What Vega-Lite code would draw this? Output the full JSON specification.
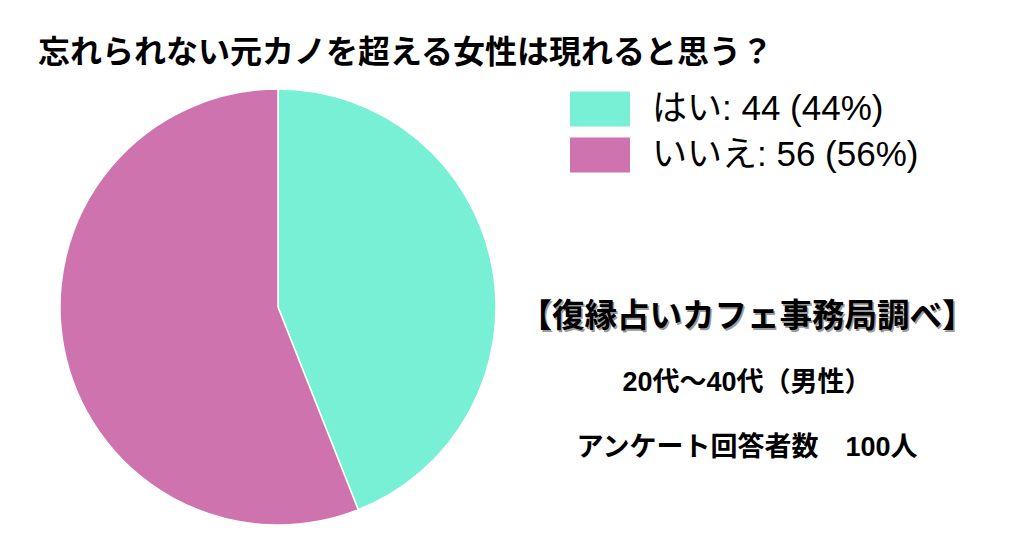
{
  "$schema": "https://vega.github.io/schema/vega-lite/v6.json",
  "background": "white",
  "padding": {"left": 0, "top": 36, "right": 0, "bottom": 0},
  "title": {
    "text": "忘れられない元カノを超える女性は現れると思う？",
    "anchor": "start",
    "dx": 38,
    "offset": 1.5,
    "baseline": "middle",
    "font": "Noto Sans CJK JP",
    "fontSize": 32,
    "fontWeight": "bold",
    "color": "#000000"
  },
  "bounds": "flush",
  "spacing": 0,
  "config": {"view": {"stroke": null}, "font": "Noto Sans CJK JP"},
  "hconcat": [
    {
      "width": 556,
      "height": 436,
      "data": {
        "values": [
          {"answer": "はい", "label": "はい: 44 (44%)", "count": 44},
          {"answer": "いいえ", "label": "いいえ: 56 (56%)", "count": 56}
        ]
      },
      "mark": {"type": "arc", "stroke": "white", "strokeWidth": 1.5},
      "encoding": {
        "theta": {"field": "count", "type": "quantitative", "stack": true},
        "order": {"field": "count", "type": "quantitative", "sort": "ascending"},
        "color": {
          "field": "label",
          "type": "nominal",
          "scale": {
            "domain": ["はい: 44 (44%)", "いいえ: 56 (56%)"],
            "range": ["#77F0D5", "#CF73AE"]
          },
          "legend": {
            "title": null,
            "orient": "none",
            "legendX": 580,
            "legendY": 0,
            "symbolType": "M-1.5,-0.875H1.5V0.875H-1.5Z",
            "symbolSize": 1600,
            "symbolStrokeWidth": 0,
            "symbolOpacity": 1,
            "labelFont": "Liberation Sans, Noto Sans CJK JP",
            "labelFontSize": 35,
            "labelColor": "#000000",
            "labelOffset": 32,
            "labelLimit": 400,
            "rowPadding": 8
          }
        }
      }
    },
    {
      "width": 382,
      "height": 436,
      "data": {
        "values": [
          {"line": "【復縁占いカフェ事務局調べ】", "kind": "heading"},
          {"line": "20代〜40代（男性）", "kind": "detail"},
          {"line": "アンケート回答者数　100人", "kind": "detail"}
        ]
      },
      "encoding": {
        "y": {
          "field": "line",
          "type": "nominal",
          "scale": {
            "type": "point",
            "domain": ["【復縁占いカフェ事務局調べ】", "20代〜40代（男性）", "アンケート回答者数　100人"],
            "range": [228, 359],
            "padding": 0
          },
          "axis": null
        },
        "text": {"field": "line", "type": "nominal"}
      },
      "layer": [
        {
          "transform": [{"filter": "datum.kind === 'heading'"}],
          "mark": {"type": "text", "font": "Noto Sans CJK JP", "fontSize": 32.5, "fontWeight": "bold", "color": "#9a9a9a", "dx": 1.5, "dy": 1.5}
        },
        {
          "transform": [{"filter": "datum.kind === 'heading'"}],
          "mark": {"type": "text", "font": "Noto Sans CJK JP", "fontSize": 32.5, "fontWeight": "bold", "color": "#000000"}
        },
        {
          "transform": [{"filter": "datum.kind === 'detail'"}],
          "mark": {"type": "text", "font": "Liberation Sans, Noto Sans CJK JP", "fontSize": 27, "fontWeight": "bold", "color": "#000000"}
        }
      ]
    }
  ]
}
